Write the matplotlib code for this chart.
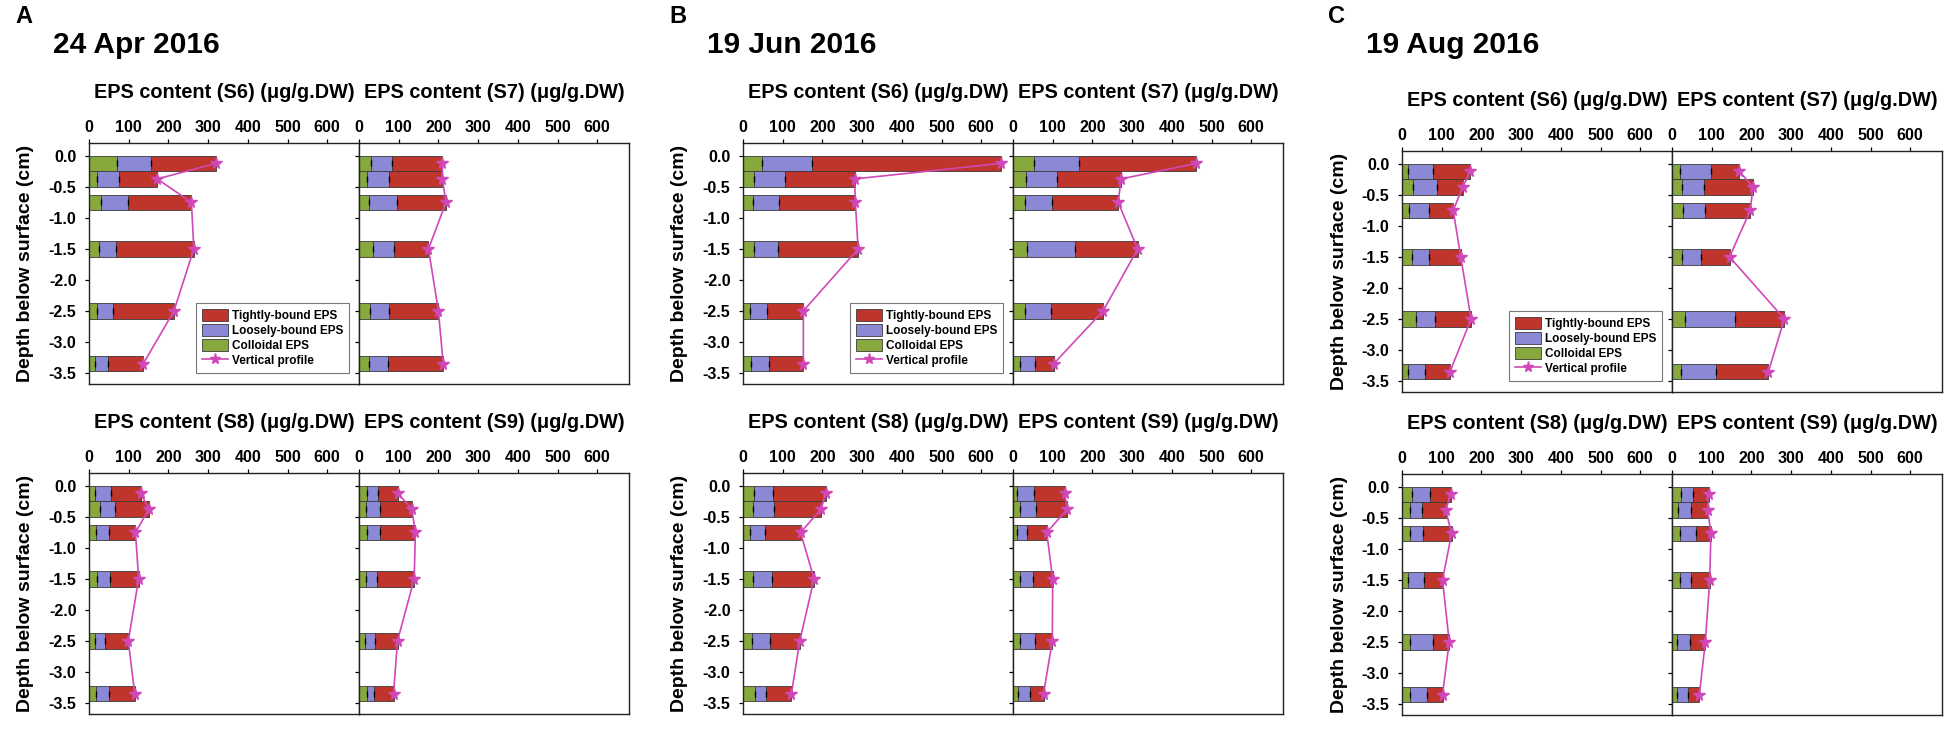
# EPS depth profiles, three sampling dates, four sites each

import numpy as np
import matplotlib.pyplot as plt
from matplotlib.patches import Patch
from matplotlib.lines import Line2D
from matplotlib.ticker import FormatStrFormatter

plt.rcParams['font.family'] = ['Liberation Sans', 'DejaVu Sans']
plt.rcParams['font.weight'] = 'bold'
plt.rcParams['axes.unicode_minus'] = False

depth = [-0.12, -0.37, -0.75, -1.5, -2.5, -3.35]
letters = ['A', 'B', 'C']
dates = ['24 Apr 2016', '19 Jun 2016', '19 Aug 2016']
sites = ['S6', 'S7', 'S8', 'S9']

# 24 Apr 2016  (colloidal, loosely-bound, tightly-bound; ug/g.DW)
apr_s6_col = [71, 19, 31, 25, 19, 15]
apr_s6_loose = [86, 56, 68, 44, 42, 33]
apr_s6_tight = [162, 97, 159, 195, 153, 89]
apr_s7_col = [30, 21, 24, 34, 28, 25]
apr_s7_loose = [53, 54, 72, 55, 48, 48]
apr_s7_tight = [127, 135, 123, 86, 124, 139]
apr_s8_col = [16, 28, 17, 19, 15, 18]
apr_s8_loose = [39, 38, 34, 34, 25, 33]
apr_s8_tight = [75, 85, 66, 72, 59, 64]
apr_s9_col = [20, 18, 20, 18, 14, 20]
apr_s9_loose = [29, 35, 34, 28, 27, 19]
apr_s9_tight = [49, 80, 88, 93, 56, 48]

# 19 Jun 2016
jun_s6_col = [49, 28, 26, 28, 18, 20]
jun_s6_loose = [125, 77, 64, 59, 43, 46]
jun_s6_tight = [475, 176, 193, 203, 91, 86]
jun_s7_col = [54, 33, 31, 35, 29, 17]
jun_s7_loose = [111, 79, 67, 121, 67, 39]
jun_s7_tight = [297, 160, 167, 158, 131, 47]
jun_s8_col = [28, 24, 18, 25, 22, 29]
jun_s8_loose = [47, 53, 37, 48, 46, 29]
jun_s8_tight = [133, 120, 90, 106, 75, 64]
jun_s9_col = [11, 18, 9, 17, 17, 12]
jun_s9_loose = [43, 41, 27, 34, 38, 31]
jun_s9_tight = [76, 78, 49, 49, 44, 34]

# 19 Aug 2016
aug_s6_col = [15, 27, 18, 25, 34, 15]
aug_s6_loose = [62, 61, 50, 43, 49, 43]
aug_s6_tight = [95, 65, 61, 80, 91, 63]
aug_s7_col = [19, 25, 28, 24, 34, 22]
aug_s7_loose = [78, 55, 56, 48, 125, 90]
aug_s7_tight = [73, 124, 113, 73, 124, 131]
aug_s8_col = [26, 19, 19, 14, 21, 21]
aug_s8_loose = [45, 32, 35, 41, 56, 43]
aug_s8_tight = [52, 59, 71, 47, 42, 38]
aug_s9_col = [22, 15, 21, 21, 13, 12]
aug_s9_loose = [30, 34, 39, 27, 32, 28]
aug_s9_tight = [40, 41, 38, 47, 39, 29]

panels = [
    [(apr_s6_col, apr_s6_loose, apr_s6_tight), (apr_s7_col, apr_s7_loose, apr_s7_tight),
     (apr_s8_col, apr_s8_loose, apr_s8_tight), (apr_s9_col, apr_s9_loose, apr_s9_tight)],
    [(jun_s6_col, jun_s6_loose, jun_s6_tight), (jun_s7_col, jun_s7_loose, jun_s7_tight),
     (jun_s8_col, jun_s8_loose, jun_s8_tight), (jun_s9_col, jun_s9_loose, jun_s9_tight)],
    [(aug_s6_col, aug_s6_loose, aug_s6_tight), (aug_s7_col, aug_s7_loose, aug_s7_tight),
     (aug_s8_col, aug_s8_loose, aug_s8_tight), (aug_s9_col, aug_s9_loose, aug_s9_tight)],
]

RED = '#C0352B'
BLUE = '#8B88D6'
GREEN = '#86A83C'
PINK = '#D048B8'
EDGE = '#3a3a3a'

W, H = 1949, 730
fig = plt.figure(figsize=(W / 100, H / 100), dpi=100)


def box(x0, y0, w, h):
    return [x0 / W, 1 - (y0 + h) / H, w / W, h / H]


def draw_site(ax, col, loose, tight, left_col):
    col = np.array(col)
    loose = np.array(loose)
    tight = np.array(tight)
    ax.barh(depth, col, height=0.25, color=GREEN, edgecolor=EDGE, lw=0.6)
    ax.barh(depth, loose, left=col, height=0.25, color=BLUE, edgecolor=EDGE, lw=0.6)
    ax.barh(depth, tight, left=col + loose, height=0.25, color=RED, edgecolor=EDGE, lw=0.6)
    ax.plot(col, depth, '|', color='black', ms=4, mew=1)
    ax.plot(col + loose, depth, '|', color='black', ms=4, mew=1)
    total = col + loose + tight
    ax.plot(total, depth, '-', color=PINK, lw=1.2, marker='*', ms=8.5,
            markerfacecolor=PINK, markeredgecolor=PINK)

    ax.set_xlim(0, 680)
    ax.set_ylim(-3.68, 0.21)
    ax.xaxis.tick_top()
    ax.set_xticks(np.arange(0, 700, 100))
    ax.set_yticks(np.arange(-3.5, 0.01, 0.5))
    ax.yaxis.set_major_formatter(FormatStrFormatter('%.1f'))
    ax.tick_params(axis='both', direction='out', length=3, width=0.9,
                   labelsize=11.5, colors='black')
    ax.tick_params(axis='x', pad=2.5)
    ax.tick_params(axis='y', pad=6)
    if not left_col:
        ax.tick_params(axis='y', labelleft=False)
    for sp in ax.spines.values():
        sp.set_linewidth(1.0)
        sp.set_color('#222222')


ax_w, ax_h = 270, 241
panel_x = [89, 743, 1402]
row_top = [[143, 473], [143, 473], [151, 474]]

for p in range(3):
    x0 = panel_x[p]
    fig.text((x0 - 74) / W, 1 - 23 / H, letters[p], fontsize=17, va='baseline')
    fig.text((x0 - 36) / W, 1 - 53 / H, dates[p], fontsize=21.5, va='baseline')
    for r in range(2):
        y0 = row_top[p][r]
        for c in range(2):
            k = r * 2 + c
            ax = fig.add_axes(box(x0 + c * ax_w, y0, ax_w, ax_h))
            col, loose, tight = panels[p][k]
            draw_site(ax, col, loose, tight, c == 0)
            fig.text((x0 + c * ax_w + ax_w / 2) / W, 1 - (y0 - 45) / H,
                     'EPS content (%s) (\u03bcg/g.DW)' % sites[k],
                     fontsize=14.3, ha='center', va='baseline')
            if c == 0:
                fig.text((x0 - 63) / W, 1 - (y0 + ax_h / 2) / H,
                         'Depth below surface (cm)', fontsize=14,
                         rotation=90, ha='center', va='center')
            if k == 0:
                handles = [Patch(facecolor=RED, edgecolor=EDGE, lw=0.6),
                           Patch(facecolor=BLUE, edgecolor=EDGE, lw=0.6),
                           Patch(facecolor=GREEN, edgecolor=EDGE, lw=0.6),
                           Line2D([], [], color=PINK, lw=1.2, marker='*', ms=8)]
                labels = ['Tightly-bound EPS', 'Loosely-bound EPS',
                          'Colloidal EPS', 'Vertical profile']
                leg = ax.legend(handles, labels, loc='lower right',
                                bbox_to_anchor=(0.963, 0.046), borderaxespad=0,
                                fontsize=8.5, handlelength=2.2, handleheight=1.1,
                                labelspacing=0.2, handletextpad=0.35,
                                borderpad=0.5, fancybox=False, framealpha=1)
                leg.get_frame().set_edgecolor('#777777')
                leg.get_frame().set_linewidth(0.8)

fig.savefig('out.png', dpi=100)
